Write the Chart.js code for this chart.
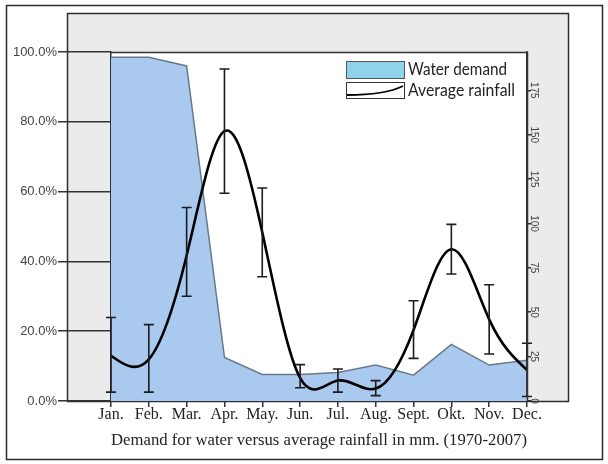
<!DOCTYPE html>
<html>
<head>
<meta charset="utf-8">
<script src="https://cdn.jsdelivr.net/npm/chart.js@4"></script>
<style>
html,body{margin:0;padding:0;background:#fff;}
canvas{display:block;}
</style>
</head>
<body>
<canvas id="c" width="608" height="464"></canvas>
<script>
// ---- data ----
const months = ["Jan.","Feb.","Mar.","Apr.","May.","Jun.","Jul.","Aug.","Sept.","Okt.","Nov.","Dec."];
const waterDemand = [98.5, 98.5, 96, 12.5, 7.6, 7.6, 8.2, 10.3, 7.4, 16.2, 10.3, 11.7];
const rainMean = [25.5, 23.5, 82, 152, 95, 13, 11.5, 7, 40, 85.5, 46, 17.5];
const rainLow  = [5, 5, 59, 117, 70, 7.5, 5, 3, 24, 71.5, 26.5, 2.5];
const rainHigh = [47, 43, 109, 187, 120, 20.5, 18, 11.5, 56.5, 99.5, 65.5, 32.5];
const pctTicks = [0, 20, 40, 60, 80, 100];
const rainTicks = [0, 25, 50, 75, 100, 125, 150, 175];
const rainMax = 196.6;
const xTitle = "Demand for water versus average rainfall in mm. (1970-2007)";

// natural cubic spline control points for the rainfall line (styling of the library's line element)
const naturalSpline = {
  id: 'naturalSpline',
  beforeDatasetDraw(chart, args) {
    const ds = chart.data.datasets[args.index];
    if (!ds.naturalSpline) return;
    const line = args.meta.dataset;
    line.updateControlPoints(chart.chartArea, 'x');
    const pts = line.points;
    const n = pts.length;
    if (n < 3) return;
    const xs = pts.map(p => p.x), ys = pts.map(p => p.y);
    const h = [];
    for (let i = 0; i < n - 1; i++) h.push(xs[i + 1] - xs[i]);
    // solve for second derivatives (natural)
    const M = new Array(n).fill(0);
    const a = [], b = [], c = [], d = [];
    for (let i = 1; i < n - 1; i++) {
      a.push(h[i - 1]);
      b.push(2 * (h[i - 1] + h[i]));
      c.push(h[i]);
      d.push(6 * ((ys[i + 1] - ys[i]) / h[i] - (ys[i] - ys[i - 1]) / h[i - 1]));
    }
    const m = b.length;
    for (let i = 1; i < m; i++) {
      const w = a[i] / b[i - 1];
      b[i] -= w * c[i - 1];
      d[i] -= w * d[i - 1];
    }
    const sol = new Array(m);
    sol[m - 1] = d[m - 1] / b[m - 1];
    for (let i = m - 2; i >= 0; i--) sol[i] = (d[i] - c[i] * sol[i + 1]) / b[i];
    for (let i = 0; i < m; i++) M[i + 1] = sol[i];
    const slope = [];
    for (let i = 0; i < n - 1; i++) {
      slope.push((ys[i + 1] - ys[i]) / h[i] - h[i] * (2 * M[i] + M[i + 1]) / 6);
    }
    slope.push((ys[n - 1] - ys[n - 2]) / h[n - 2] + h[n - 2] * (M[n - 2] + 2 * M[n - 1]) / 6);
    for (let i = 0; i < n; i++) {
      const hl = i > 0 ? h[i - 1] / 3 : 0;
      const hr = i < n - 1 ? h[i] / 3 : 0;
      pts[i].cp1x = xs[i] - hl; pts[i].cp1y = ys[i] - slope[i] * hl;
      pts[i].cp2x = xs[i] + hr; pts[i].cp2y = ys[i] + slope[i] * hr;
    }
    line._path = undefined;
  }
};

const frame = {
  id: 'frame',
  beforeDraw(chart) {
    const ctx = chart.ctx, a = chart.chartArea;
    ctx.save();
    ctx.fillStyle = '#ffffff';
    ctx.fillRect(0, 0, chart.width, chart.height);
    ctx.strokeStyle = '#2a2a2a';
    ctx.lineWidth = 1.5;
    ctx.strokeRect(6.5, 5.5, 596, 454);
    ctx.fillStyle = '#ebebeb';
    ctx.fillRect(67, 13, 502, a.bottom - 13);
    ctx.strokeStyle = '#2e2e2e';
    ctx.strokeRect(67.5, 13.5, 501, a.bottom - 13);
    ctx.fillStyle = '#ffffff';
    ctx.fillRect(a.left, a.top, a.right - a.left, a.bottom - a.top);
    ctx.restore();
  },
  afterDraw(chart) {
    const ctx = chart.ctx, a = chart.chartArea;
    ctx.save();
    ctx.strokeStyle = '#333';
    ctx.lineWidth = 1.5;
    ctx.beginPath();
    ctx.moveTo(a.left, a.top + 0.5);
    ctx.lineTo(a.right + 0.5, a.top + 0.5);
    ctx.lineTo(a.right + 0.5, a.bottom);
    ctx.stroke();
    const y2 = chart.scales.y2;
    ctx.fillStyle = '#444';
    ctx.font = '10px "Liberation Sans", Arial, sans-serif';
    ctx.textAlign = 'center';
    ctx.textBaseline = 'middle';
    rainTicks.forEach(v => {
      const py = y2.getPixelForValue(v);
      ctx.save();
      ctx.translate(a.right + 7, py);
      ctx.rotate(Math.PI / 2);
      ctx.fillText(String(v), 0, 0);
      ctx.restore();
    });
    ctx.restore();
  }
};

const errorBars = {
  id: 'errorBars',
  afterDatasetsDraw(chart) {
    const ctx = chart.ctx, xs = chart.scales.x, y2 = chart.scales.y2;
    ctx.save();
    ctx.strokeStyle = '#1c1c1c';
    ctx.lineWidth = 1.6;
    for (let i = 0; i < months.length; i++) {
      const x = xs.getPixelForValue(i);
      const t = y2.getPixelForValue(rainHigh[i]);
      const b = y2.getPixelForValue(rainLow[i]);
      ctx.beginPath();
      ctx.moveTo(x, t); ctx.lineTo(x, b);
      ctx.moveTo(x - 5, t); ctx.lineTo(x + 5, t);
      ctx.moveTo(x - 5, b); ctx.lineTo(x + 5, b);
      ctx.stroke();
    }
    ctx.restore();
  }
};

const legendBox = {
  id: 'legendBox',
  afterDatasetsDraw(chart) {
    const ctx = chart.ctx, a = chart.chartArea;
    const ds = chart.data.datasets;
    const sx = a.right - 181, sw = 58;
    ctx.save();
    ctx.fillStyle = '#8fd3ea';
    ctx.fillRect(sx, 61, sw, 17);
    ctx.strokeStyle = '#555';
    ctx.lineWidth = 1;
    ctx.strokeRect(sx + 0.5, 61.5, sw, 17);
    ctx.fillStyle = '#fff';
    ctx.fillRect(sx, 82, sw, 16);
    ctx.strokeStyle = '#333';
    ctx.strokeRect(sx + 0.5, 82.5, sw, 16);
    ctx.beginPath();
    ctx.strokeStyle = '#000';
    ctx.lineWidth = 1.8;
    ctx.moveTo(sx + 1, 95);
    ctx.bezierCurveTo(sx + 25, 95, sx + 45, 92, sx + sw - 1, 86);
    ctx.stroke();
    ctx.fillStyle = '#222';
    ctx.font = '17px Lato, "Open Sans", sans-serif';
    ctx.textBaseline = 'middle';
    ctx.textAlign = 'left';
    const texts = [[ds[0].label, 70, 99], [ds[1].label, 90.5, 107]];
    texts.forEach(([txt, y, w]) => {
      const mw = ctx.measureText(txt).width;
      ctx.save();
      ctx.translate(sx + 62, y);
      ctx.scale(w / mw, 1);
      ctx.fillText(txt, 0, 0);
      ctx.restore();
    });
    ctx.restore();
  }
};

new Chart(document.getElementById('c'), {
  data: {
    labels: months,
    datasets: [
      {
        type: 'line',
        label: 'Water demand',
        data: waterDemand,
        yAxisID: 'y',
        fill: 'origin',
        backgroundColor: '#a9c9ef',
        borderColor: '#687a8a',
        borderWidth: 1.5,
        tension: 0,
        pointRadius: 0,
        order: 2
      },
      {
        type: 'line',
        label: 'Average rainfall',
        data: rainMean,
        yAxisID: 'y2',
        fill: false,
        borderColor: '#000',
        borderWidth: 2.6,
        tension: 0.4,
        naturalSpline: true,
        pointRadius: 0,
        order: 1
      }
    ]
  },
  options: {
    responsive: false,
    animation: false,
    devicePixelRatio: 1,
    layout: { padding: { top: 52, left: 0, right: 0, bottom: 0 } },
    plugins: { legend: { display: false }, tooltip: { enabled: false } },
    scales: {
      x: {
        type: 'category',
        offset: false,
        afterFit(s) { s.height = 63; },
        grid: { drawOnChartArea: false, tickLength: 6, color: '#333', lineWidth: 1.5 },
        border: { display: true, color: '#333', width: 1.5 },
        ticks: {
          autoSkip: false, maxRotation: 0, minRotation: 0, padding: -2,
          color: '#222', font: { family: '"Liberation Serif", "Times New Roman", serif', size: 16 }
        },
        title: {
          display: true, text: xTitle, color: '#222',
          padding: { top: 0, bottom: 13 },
          font: { family: '"Liberation Serif", "Times New Roman", serif', size: 17 }
        }
      },
      y: {
        position: 'left',
        min: 0, max: 100,
        afterFit(s) { s.width = 111; },
        afterBuildTicks(s) { s.ticks = pctTicks.map(v => ({ value: v })); },
        grid: { drawOnChartArea: false, tickLength: 53, color: '#333', lineWidth: 1.5 },
        border: { display: true, color: '#333', width: 1.5 },
        ticks: {
          padding: 1, color: '#444',
          font: { family: '"Liberation Sans", Arial, sans-serif', size: 13 },
          callback: v => v.toFixed(1) + '%'
        }
      },
      y2: {
        position: 'right',
        min: 0, max: rainMax,
        afterFit(s) { s.width = 81; },
        afterBuildTicks(s) { s.ticks = rainTicks.map(v => ({ value: v })); },
        grid: { drawOnChartArea: false, tickLength: 4, color: '#333', lineWidth: 1.5 },
        border: { display: true, color: '#333', width: 1.5 },
        ticks: { display: false }
      }
    }
  },
  plugins: [naturalSpline, frame, errorBars, legendBox]
});
</script>
</body>
</html>
